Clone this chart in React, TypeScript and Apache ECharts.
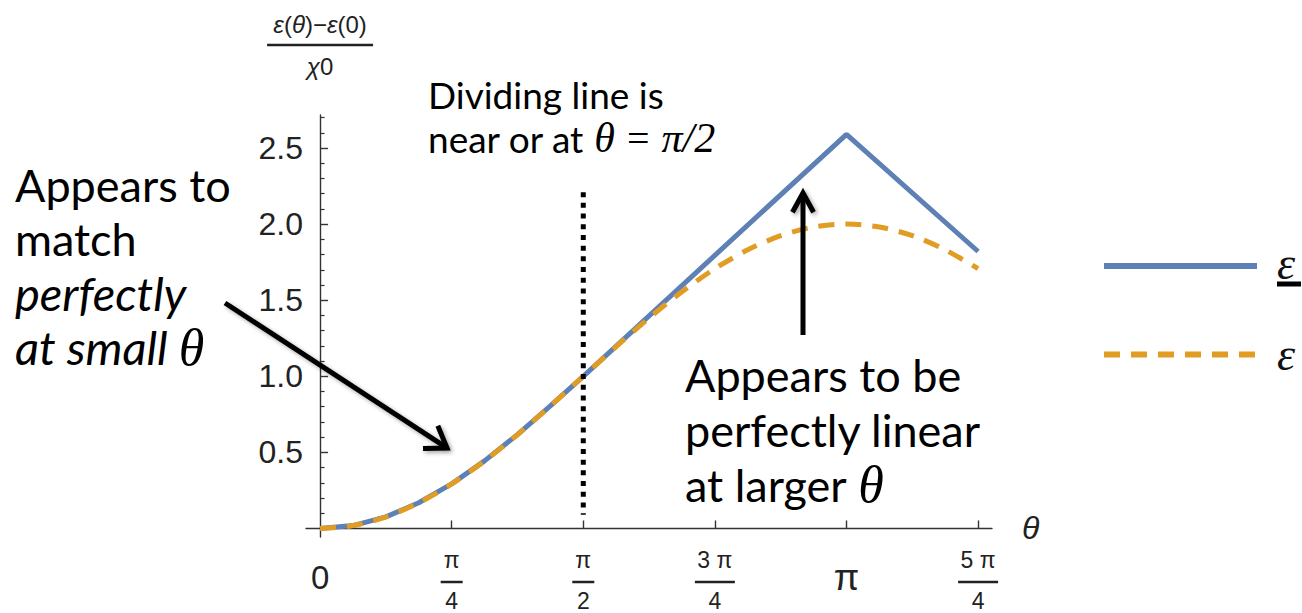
import React, { useEffect, useRef } from 'react';
import * as echarts from 'echarts';

// θ samples (radians) and normalised energies [ε(θ) − ε(0)] / χ0
const thetaExact = [0, 0.1963, 0.3927, 0.589, 0.7854, 0.9817, 1.1781, 1.3744, 1.5708, 1.7671, 1.9635, 2.1598, 2.3562, 2.5525, 2.7489, 2.9452, 3.1416, 3.3379, 3.5343, 3.7306, 3.927];
const energyExact = [0, 0.019, 0.076, 0.169, 0.293, 0.444, 0.617, 0.805, 1.0, 1.195, 1.383, 1.556, 1.707, 1.831, 1.924, 1.981, 2.0, 1.981, 1.924, 1.831, 1.707];
const thetaBound = [0, 0.1963, 0.3927, 0.589, 0.7854, 0.9817, 1.1781, 1.3744, 1.5708, 3.1416, 3.927];
const energyBound = [0, 0.019, 0.076, 0.169, 0.293, 0.444, 0.617, 0.805, 1.0, 2.59, 1.82];

// Dotted divider at θ = π/2
const dividerTheta = [1.5708, 1.5708];
const dividerEnergy = [2.21, 0.09];

// Axis ticks and labels
const xTickValues = [0, 0.7854, 1.5708, 2.3562, 3.1416, 3.927];
const xTickLabels = ['0', 'π/4', 'π/2', '3 π/4', 'π', '5 π/4'];
const yTickValues = [0.5, 1.0, 1.5, 2.0, 2.5];
const yTickLabels = ['0.5', '1.0', '1.5', '2.0', '2.5'];
const yMinorTickValues = [0.1, 0.2, 0.3, 0.4, 0.6, 0.7, 0.8, 0.9, 1.1, 1.2, 1.3, 1.4, 1.6, 1.7, 1.8, 1.9, 2.1, 2.2, 2.3, 2.4, 2.6, 2.7];

const BLUE = '#5E81B5';
const ORANGE = '#E19C24';
const INK = '#222';
const SANS = '"Liberation Sans", Arial, sans-serif';
const SERIF = '"Liberation Serif", "Times New Roman", serif';
const NOTE = 'Lato, "Open Sans", sans-serif';

const zip = (xs: number[], ys: number[]) => xs.map((x, i) => [x, ys[i]]);

function xLabel(value: number): string {
  let idx = 0;
  xTickValues.forEach((v, i) => {
    if (Math.abs(v - value) < Math.abs(xTickValues[idx] - value)) idx = i;
  });
  const label = xTickLabels[idx];
  if (label.indexOf('/') < 0) return label === 'π' ? `{pi|${label}}` : `{big|${label}}`;
  const [num, den] = label.split('/');
  const bar = num.length > 1 ? 'barWide' : 'bar';
  return `{num|${num}}\n{${bar}| }\n{den|${den}}`;
}

const SHADOW = {
  shadowBlur: 4,
  shadowColor: 'rgba(0,0,0,0.35)',
  shadowOffsetX: 2,
  shadowOffsetY: 2,
};

function arrow(x1: number, y1: number, x2: number, y2: number, head: number, spread: number, shaftShadow: boolean) {
  const ang = Math.atan2(y1 - y2, x1 - x2);
  const a1 = [x2 + head * Math.cos(ang + spread), y2 + head * Math.sin(ang + spread)];
  const a2 = [x2 + head * Math.cos(ang - spread), y2 + head * Math.sin(ang - spread)];
  return [
    {
      type: 'line',
      z: 100,
      shape: { x1, y1, x2: x2 + 2 * Math.cos(ang), y2: y2 + 2 * Math.sin(ang) },
      style: { stroke: '#000', lineWidth: 5, ...(shaftShadow ? SHADOW : {}) },
    },
    {
      type: 'polyline',
      z: 100,
      shape: { points: [a1, [x2, y2], a2] },
      style: { stroke: '#000', lineWidth: 5, fill: null, lineJoin: 'miter', ...SHADOW },
    },
  ];
}

export default function App() {
  const ref = useRef<HTMLDivElement>(null);

  useEffect(() => {
    if (!ref.current) return;
    const chart = echarts.init(ref.current, null, { renderer: 'svg' });

    const option: any = {
      animation: false,
      backgroundColor: '#fff',
      grid: {
        left: 306,
        top: 115,
        width: 686,
        height: 422,
        containLabel: false,
        outerBoundsMode: 'none',
      },
      legend: {
        orient: 'vertical',
        left: 1101,
        top: 240,
        padding: 0,
        itemWidth: 153,
        itemHeight: 14,
        itemGap: 45,
        data: ['boundEnergy', 'exactEnergy'],
        selectedMode: false,
        lineStyle: { width: 6 },
        itemStyle: { opacity: 0 },
        formatter: (name: string) => (name === 'boundEnergy' ? '{e|ε}\n{u| }' : '{e|ε}'),
        textStyle: {
          color: '#111',
          padding: [0, 0, 0, 15],
          rich: {
            e: { fontFamily: SERIF, fontStyle: 'italic', fontSize: 46, lineHeight: 36, color: '#111' },
            u: { width: 24, height: 5, fontSize: 2, lineHeight: 6, backgroundColor: '#000' },
          },
        },
      },
      xAxis: {
        type: 'value',
        min: -0.084,
        max: 4.01,
        splitLine: { show: false },
        axisLine: { show: true, onZero: true, lineStyle: { color: '#333', width: 1.4 } },
        axisTick: {
          show: true,
          inside: true,
          length: 8,
          customValues: xTickValues.slice(1),
          lineStyle: { color: '#333', width: 1.4 },
        },
        axisLabel: {
          show: true,
          customValues: xTickValues,
          margin: 10,
          color: INK,
          formatter: xLabel,
          rich: {
            big: { fontFamily: SANS, fontSize: 33, lineHeight: 60, color: INK },
            pi: { fontFamily: SANS, fontSize: 37, lineHeight: 60, color: INK },
            num: { fontFamily: SANS, fontSize: 23, lineHeight: 26, color: INK },
            den: { fontFamily: SANS, fontSize: 23, lineHeight: 20, color: INK },
            bar: { width: 22, height: 2.5, fontSize: 2, lineHeight: 18, backgroundColor: INK },
            barWide: { width: 40, height: 2.5, fontSize: 2, lineHeight: 18, backgroundColor: INK },
          },
        },
        name: 'θ',
        nameLocation: 'end',
        nameGap: 30,
        nameTextStyle: { fontFamily: SANS, fontStyle: 'italic', fontSize: 32, color: INK },
      },
      yAxis: [
        {
          type: 'value',
          min: -0.056,
          max: 2.717,
          position: 'left',
          splitLine: { show: false },
          axisLine: { show: true, onZero: true, lineStyle: { color: '#333', width: 1.4 } },
          axisTick: {
            show: true,
            inside: true,
            length: 8,
            customValues: yTickValues,
            lineStyle: { color: '#333', width: 1.4 },
          },
          axisLabel: {
            show: true,
            customValues: yTickValues,
            margin: 3,
            color: INK,
            fontFamily: SANS,
            fontSize: 32,
            formatter: (v: number) => yTickLabels[yTickValues.findIndex((t) => Math.abs(t - v) < 1e-6)] ?? '',
          },
          name: '{i|ε}{u|(}{i|θ}{u|)−}{i|ε}{u|(0)}\n{bar| }\n{i|χ}{u|0}',
          nameLocation: 'end',
          nameGap: 34,
          nameTextStyle: {
            align: 'center',
            verticalAlign: 'bottom',
            rich: {
              i: { fontFamily: SANS, fontStyle: 'italic', fontSize: 24, lineHeight: 30, color: INK },
              u: { fontFamily: SANS, fontSize: 24, lineHeight: 30, color: INK },
              bar: { width: 106, height: 2.5, fontSize: 2, lineHeight: 12, backgroundColor: INK },
            },
          },
        },
        {
          type: 'value',
          min: -0.056,
          max: 2.717,
          position: 'left',
          splitLine: { show: false },
          axisLine: { show: false, onZero: true, onZeroAxisIndex: 0 },
          axisTick: {
            show: true,
            inside: true,
            length: 4.5,
            customValues: yMinorTickValues,
            lineStyle: { color: '#333', width: 1.2 },
          },
          axisLabel: { show: false },
        },
      ],
      series: [
        {
          name: 'boundEnergy',
          type: 'line',
          data: zip(thetaBound, energyBound),
          symbol: 'none',
          z: 2,
          lineStyle: { color: BLUE, width: 5 },
          itemStyle: { color: BLUE },
        },
        {
          name: 'exactEnergy',
          type: 'line',
          data: zip(thetaExact, energyExact),
          symbol: 'none',
          smooth: 0.3,
          z: 3,
          lineStyle: { color: ORANGE, width: 5, type: [16, 11] },
          itemStyle: { color: ORANGE },
        },
        {
          name: 'divider',
          type: 'line',
          data: zip(dividerTheta, dividerEnergy),
          symbol: 'none',
          silent: true,
          z: 4,
          lineStyle: { color: '#000', width: 5, type: [5, 5.7] },
        },
      ],
      graphic: [
        {
          type: 'text',
          z: 100,
          style: {
            x: 428,
            y: 72,
            text: 'Dividing line is\nnear or at {ti|θ}{tr|=}{ti|π/2}',
            fontFamily: NOTE,
            fontSize: 37,
            lineHeight: 44,
            fill: '#000',
            rich: {
              ti: { fontFamily: SERIF, fontStyle: 'italic', fontSize: 42, lineHeight: 44, fill: '#000' },
              tr: { fontFamily: SERIF, fontSize: 40, lineHeight: 44, fill: '#000', padding: [0, 12, 0, 12] },
            },
          },
        },
        {
          type: 'text',
          z: 100,
          style: {
            x: 15,
            y: 158,
            text: 'Appears to\nmatch\n{it|perfectly}\n{it|at small }{ti|θ}',
            fontFamily: NOTE,
            fontSize: 45,
            lineHeight: 54,
            fill: '#000',
            rich: {
              it: { fontFamily: NOTE, fontStyle: 'italic', fontSize: 47, lineHeight: 54, fill: '#000' },
              ti: { fontFamily: SERIF, fontStyle: 'italic', fontSize: 52, lineHeight: 54, fill: '#000' },
            },
          },
        },
        {
          type: 'text',
          z: 100,
          style: {
            x: 685,
            y: 347,
            text: 'Appears to be\nperfectly linear\nat larger {ti|θ}',
            fontFamily: NOTE,
            fontSize: 45,
            lineHeight: 55,
            fill: '#000',
            rich: {
              ti: { fontFamily: SERIF, fontStyle: 'italic', fontSize: 52, lineHeight: 55, fill: '#000' },
            },
          },
        },
        ...arrow(225, 303, 447, 448, 24, 0.6, true),
        ...arrow(803, 335, 803, 193, 22, 0.5, false),
      ],
    };

    chart.setOption(option);
    return () => chart.dispose();
  }, []);

  return (
    <div
      ref={ref}
      style={{ position: 'absolute', left: 0, top: 0, width: 1302, height: 613, background: '#fff' }}
    />
  );
}
